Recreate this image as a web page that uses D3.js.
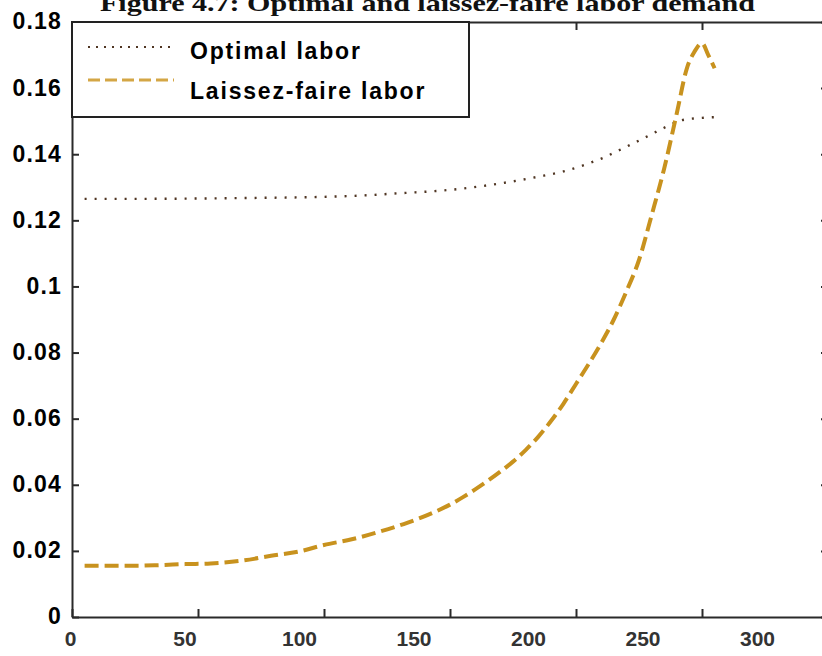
<!DOCTYPE html>
<html>
<head>
<meta charset="utf-8">
<script src="https://cdn.jsdelivr.net/npm/d3@7"></script>
<style>
  html, body { margin: 0; padding: 0; background: #fff; }
  svg { display: block; }
</style>
</head>
<body>
<svg id="chart" width="822" height="656"></svg>
<script>
// Tick values for the axes
const xTicks = [0, 50, 100, 150, 200, 250, 300];
const xLabels = [0, 50, 100, 150, 200, 250, 300];
const yTicks = [0, 0.02, 0.04, 0.06, 0.08, 0.1, 0.12, 0.14, 0.16, 0.18];

// Optimal labor demand over time
const optimalT = [5, 25, 50, 75, 100, 115, 130, 145, 155, 165, 175, 185, 195, 205, 211, 219, 227, 235, 242, 250, 255];
const optimalV = [0.1265, 0.1265, 0.1266, 0.1268, 0.1271, 0.1275, 0.1282, 0.1289, 0.1296, 0.1306, 0.1318, 0.1332, 0.1348, 0.1372, 0.1390, 0.1419, 0.1449, 0.1480, 0.1503, 0.1510, 0.1512];

// Laissez-faire labor demand over time
const laissezT = [5, 15, 25, 35, 45, 55, 67, 79, 90, 100, 111, 122, 133, 144, 150, 155, 160, 165, 170, 175, 180, 185, 190, 195, 200, 205, 209.5, 215, 220, 225, 230, 235, 240, 244, 247, 250, 252.5, 255];
const laissezV = [0.0155, 0.0155, 0.0155, 0.0157, 0.0160, 0.0162, 0.0170, 0.0185, 0.0198, 0.0218, 0.0235, 0.0258, 0.0285, 0.0318, 0.0340, 0.0362, 0.0386, 0.0412, 0.0440, 0.0470, 0.0505, 0.0545, 0.0592, 0.0645, 0.0705, 0.0765, 0.0822, 0.0900, 0.0985, 0.1080, 0.1215, 0.1357, 0.1524, 0.1660, 0.1710, 0.1736, 0.1700, 0.1660];

const svg = d3.select("#chart");

// Axes frame
const frame = { left: 72, right: 828, top: 22, bottom: 617 };
const x = d3.scaleLinear().domain([0, 300]).range([frame.left, frame.right]);
const y = d3.scaleLinear().domain([0, 0.18]).range([frame.bottom, frame.top]);
// Row of x tick labels printed beneath the frame
const xLabelScale = d3.scaleLinear().domain([0, 300]).range([70, 757]);

// Title
svg.append("text")
  .attr("x", 100).attr("y", 11)
  .attr("textLength", 655)
  .attr("lengthAdjust", "spacingAndGlyphs")
  .style("font-family", "'Liberation Serif', 'Times New Roman', serif")
  .style("font-weight", "bold")
  .style("font-size", "24px")
  .attr("fill", "#111")
  .text("Figure 4.7: Optimal and laissez-faire labor demand");

// Data lines
const line = d3.line().curve(d3.curveMonotoneX).x(d => x(d[0])).y(d => y(d[1]));

svg.append("path")
  .datum(optimalT.map((t, i) => [t, optimalV[i]]))
  .attr("d", line)
  .attr("fill", "none")
  .attr("stroke", "#4f3522")
  .attr("stroke-width", 2.4)
  .attr("stroke-dasharray", "2 8");

svg.append("path")
  .datum(laissezT.map((t, i) => [t, laissezV[i]]))
  .attr("d", line)
  .attr("fill", "none")
  .attr("stroke", "#c8921e")
  .attr("stroke-width", 4)
  .attr("stroke-dasharray", "14 6");

// Frame and tick marks
const frameColor = "#2a2a2a";
function styleAxis(g) {
  g.select(".domain").attr("stroke", frameColor).attr("stroke-width", 2);
  g.selectAll(".tick line").attr("stroke", frameColor).attr("stroke-width", 2);
}

svg.append("g").attr("transform", `translate(0,${frame.bottom})`)
  .call(d3.axisBottom(x).tickValues(xTicks).tickSize(-8).tickSizeOuter(0).tickFormat(""))
  .call(styleAxis);
svg.append("g").attr("transform", `translate(0,${frame.top})`)
  .call(d3.axisTop(x).tickValues(xTicks).tickSize(-8).tickSizeOuter(0).tickFormat(""))
  .call(styleAxis);
svg.append("g").attr("transform", `translate(${frame.right},0)`)
  .call(d3.axisRight(y).tickValues(yTicks).tickSize(-7).tickSizeOuter(0).tickFormat(""))
  .call(styleAxis);

const yAxis = svg.append("g").attr("transform", `translate(${frame.left},0)`)
  .call(d3.axisLeft(y).tickValues(yTicks).tickSize(-7).tickSizeOuter(0).tickPadding(10)
    .tickFormat(d => d === 0 ? "0" : String(d)))
  .call(styleAxis);
yAxis.selectAll(".tick text")
  .attr("dy", "0.3em")
  .style("font-family", "'Liberation Sans', Arial, sans-serif")
  .style("font-weight", "bold")
  .style("font-size", "23px")
  .style("letter-spacing", "1.2px")
  .attr("fill", "#000");

// x tick labels
const xLab = svg.append("g").attr("transform", `translate(0,${frame.bottom})`)
  .call(d3.axisBottom(xLabelScale).tickValues(xLabels).tickSize(0).tickPadding(14));
xLab.select(".domain").remove();
xLab.selectAll(".tick text")
  .attr("dy", "0.71em")
  .style("font-family", "'Liberation Sans', Arial, sans-serif")
  .style("font-weight", "bold")
  .style("font-size", "21px")
  .attr("fill", "#333");

// Legend
const legend = svg.append("g");
legend.append("rect")
  .attr("x", frame.left).attr("y", frame.top).attr("width", 397).attr("height", 95)
  .attr("fill", "#fff").attr("stroke", "#222").attr("stroke-width", 2);

const entries = [
  { label: "Optimal labor", color: "#4f3522", width: 2.2, dash: "2 6", ly: 47, ty: 59 },
  { label: "Laissez-faire labor", color: "#d4a645", width: 3, dash: "12 5", ly: 80, ty: 99 }
];
entries.forEach(e => {
  legend.append("line")
    .attr("x1", 88).attr("x2", 174).attr("y1", e.ly).attr("y2", e.ly)
    .attr("stroke", e.color).attr("stroke-width", e.width)
    .attr("stroke-dasharray", e.dash);
  legend.append("text")
    .attr("x", 190).attr("y", e.ty)
    .style("font-family", "'Liberation Sans', Arial, sans-serif")
    .style("font-weight", "bold")
    .style("font-size", "23px")
    .style("letter-spacing", "1.8px")
    .attr("fill", "#000")
    .text(e.label);
});
</script>
</body>
</html>
